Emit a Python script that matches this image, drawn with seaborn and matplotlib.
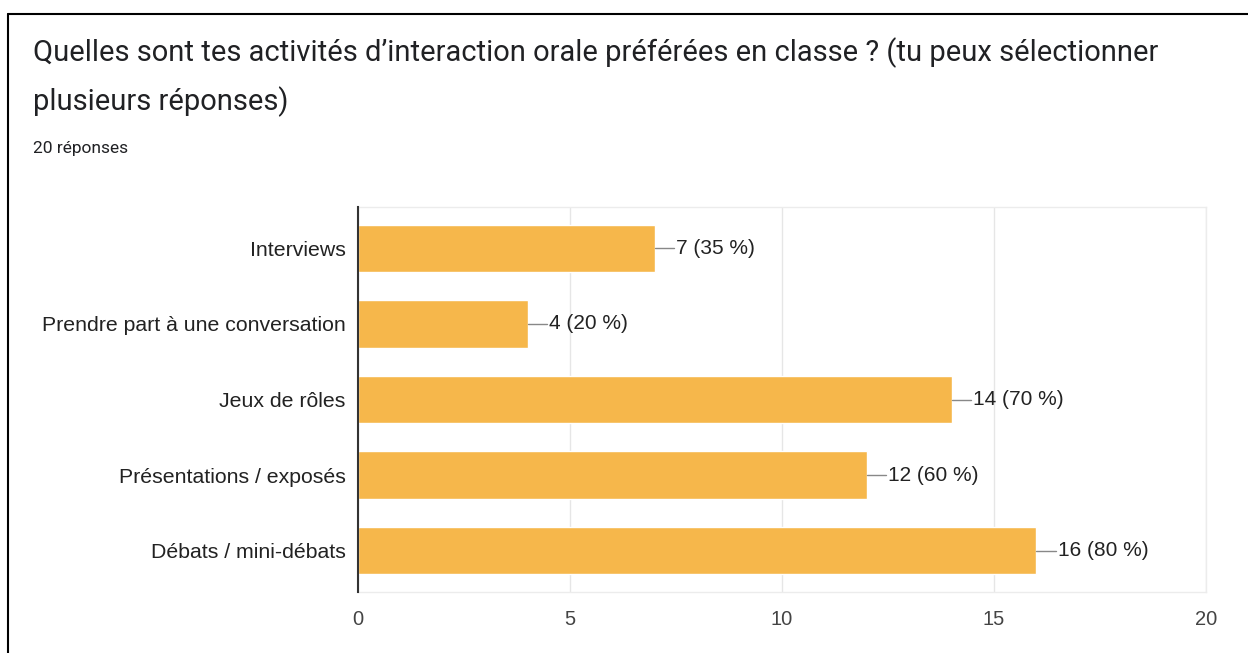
import matplotlib
matplotlib.use("Agg")
import matplotlib.pyplot as plt
import seaborn as sns
import pandas as pd
from matplotlib.lines import Line2D

categories = ["Interviews", "Prendre part à une conversation", "Jeux de rôles",
              "Présentations / exposés", "Débats / mini-débats"]
counts = [7, 4, 14, 12, 16]
percents = [35, 20, 70, 60, 80]
xticks = [0, 5, 10, 15, 20]
title = "Quelles sont tes activités d’interaction orale préférées en classe ? (tu peux sélectionner\nplusieurs réponses)"
subtitle = "20 réponses"

sns.set_theme(style="white")
plt.rcParams['font.family'] = ['Liberation Sans', 'DejaVu Sans']

df = pd.DataFrame({"cat": categories, "n": counts})

fig = plt.figure(figsize=(12.48, 6.53), dpi=100)
ax = fig.add_axes([358/1248, 1-592/653, (1206-358)/1248, (592-207)/653])
sns.barplot(data=df, y="cat", x="n", orient="h", color="#f6b74b", saturation=1,
            width=0.63, ax=ax, zorder=2)

ax.set_xlim(0, 20)
ax.set_xticks(xticks)
ax.set_xticklabels([str(t) for t in xticks], fontsize=14.5, color="#444444")
ax.tick_params(axis="x", length=0, pad=13)
ax.tick_params(axis="y", length=0, pad=9, labelsize=15.3, labelcolor="#222222")
ax.set_xlabel("")
ax.set_ylabel("")
ax.grid(axis="x", color="#e6e6e6", linewidth=1, zorder=0)
for s in ["top", "bottom", "right"]:
    ax.spines[s].set_color("#ececec")
    ax.spines[s].set_linewidth(1)
ax.spines["left"].set_color("#333333")
ax.spines["left"].set_linewidth(1.5)
ax.spines["left"].set_zorder(3)

for i, (c, p) in enumerate(zip(counts, percents)):
    ax.plot([c, c + 0.46], [i, i], color="#888888", linewidth=1, zorder=3)
    ax.text(c + 0.5, i, f"{c} ({p} %)", va="center", ha="left",
            fontsize=15, color="#222222")

fig.text(33/1248, 1-37/653, title, fontsize=21, color="#202124",
         family=["Roboto", "DejaVu Sans"], va="top", ha="left", linespacing=1.78)
fig.text(33/1248, 1-148/653, subtitle, fontsize=12.5, color="#202124",
         family=["Roboto", "DejaVu Sans"], va="center", ha="left")

fig.add_artist(Line2D([8/1248, 8/1248], [0, 1-14/653], color="black", linewidth=1.5,
                      transform=fig.transFigure))
fig.add_artist(Line2D([8/1248, 1], [1-14/653, 1-14/653], color="black", linewidth=1.5,
                      transform=fig.transFigure))

fig.savefig("out.png", dpi=100)
